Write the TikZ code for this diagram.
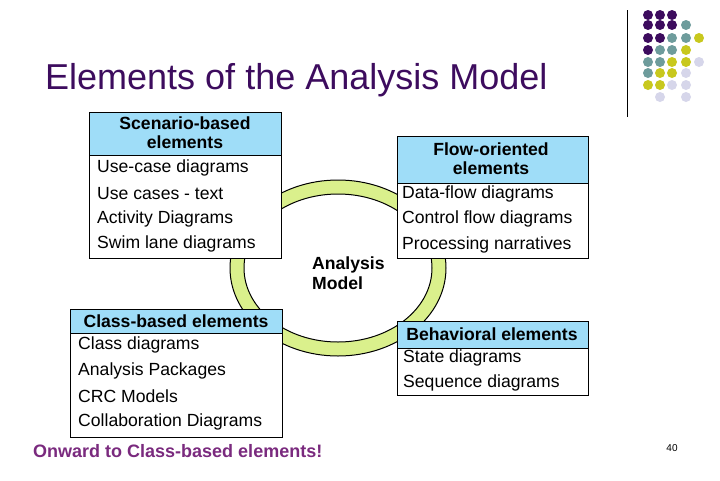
\documentclass[tikz,border=0pt]{standalone}
\usepackage{fontspec}
\setmainfont{Liberation Sans}
\begin{document}
\begin{tikzpicture}[x=1pt,y=-1pt,
 hdr/.style={draw=black,line width=1pt,fill=headblue},
 body/.style={draw=black,line width=1pt,fill=white},
 txt/.style={anchor=west,inner sep=0,font=\fontsize{17.6}{19}\selectfont},
 htxt/.style={align=center,inner sep=0,font=\bfseries\fontsize{17.6}{19}\selectfont}]
\definecolor{headblue}{HTML}{9FDDF8}
\definecolor{ringg}{HTML}{DAF08C}
\definecolor{dp}{HTML}{3D0C5E}
\definecolor{fm}{HTML}{7A2A7E}
\definecolor{dt}{HTML}{6E9C9C}
\definecolor{dy}{HTML}{C8C81E}
\definecolor{dl}{HTML}{D6D6EA}
\useasboundingbox (0,0) rectangle (720,480);
% ring
\fill[ringg,even odd rule,draw=black,line width=1pt] (338,268) ellipse [x radius=108,y radius=88] (338,268) ellipse [x radius=94,y radius=74];
\node[font=\bfseries\fontsize{17.6}{20}\selectfont,align=left,anchor=west,inner sep=0] (am) at (312,273) {Analysis\\Model};
% title
\node[anchor=west,inner sep=0,text=dp,font=\fontsize{36}{40}\selectfont] (title) at (45,80) {Elements of the Analysis Model};
% decoration
\draw[line width=0.8pt] (627,10) -- (627,117);
\foreach \c/\x/\y in {dp/648/15,dp/660/15,dp/672/15,
 dp/648/25,dp/660/25,dp/672/25,dt/686/25,
 dp/648/38,dp/660/38,dt/672/38,dt/686/38,dy/699/38,
 dp/648/50,dt/660/50,dt/672/50,dy/686/50,
 dt/648/62,dt/660/62,dy/672/62,dy/686/62,dl/699/62,
 dt/648/73,dy/660/73,dy/672/73,dl/686/73,
 dy/648/85,dy/660/85,dl/672/85,dl/686/85,
 dl/660/97,dl/686/97}
 \fill[\c] (\x,\y) circle (5);
% scenario
\draw[body] (89,155) rectangle (281,258);
\draw[hdr] (89,112) rectangle (281,155);
\node[htxt] (sh) at (185,133) {Scenario-based\\elements};
\node[txt] (s1) at (97,168) {Use-case diagrams};
\node[txt] (s2) at (97,194) {Use cases - text};
\node[txt] (s3) at (97,219) {Activity Diagrams};
\node[txt] (s4) at (97,244) {Swim lane diagrams};
% flow
\draw[body] (397,183) rectangle (588,258);
\draw[hdr] (397,136) rectangle (588,183);
\node[htxt] (fh) at (491,159) {Flow-oriented\\elements};
\node[txt] (f1) at (402,194) {Data-flow diagrams};
\node[txt] (f2) at (402,219) {Control flow diagrams};
\node[txt] (f3) at (402,245) {Processing narratives};
% class
\draw[body] (70,333) rectangle (282,437);
\draw[hdr] (70,309) rectangle (282,333);
\node[htxt] (ch) at (176,321) {Class-based elements};
\node[txt] (c1) at (78,345) {Class diagrams};
\node[txt] (c2) at (78,371) {Analysis Packages};
\node[txt] (c3) at (78,396) {CRC Models};
\node[txt] (c4) at (78,422) {Collaboration Diagrams};
% behavioral
\draw[body] (397,348) rectangle (588,395);
\draw[hdr] (397,321) rectangle (588,348);
\node[htxt] (bh) at (492,334) {Behavioral elements};
\node[txt] (b1) at (403,358) {State diagrams};
\node[txt] (b2) at (403,383) {Sequence diagrams};
% footer
\node[anchor=west,inner sep=0,text=fm,font=\bfseries\fontsize{18}{20}\selectfont] (onw) at (33,451) {Onward to Class-based elements!};
\node[inner sep=0,font=\fontsize{10}{11}\selectfont] (pg) at (672,448) {40};
\end{tikzpicture}
\end{document}
